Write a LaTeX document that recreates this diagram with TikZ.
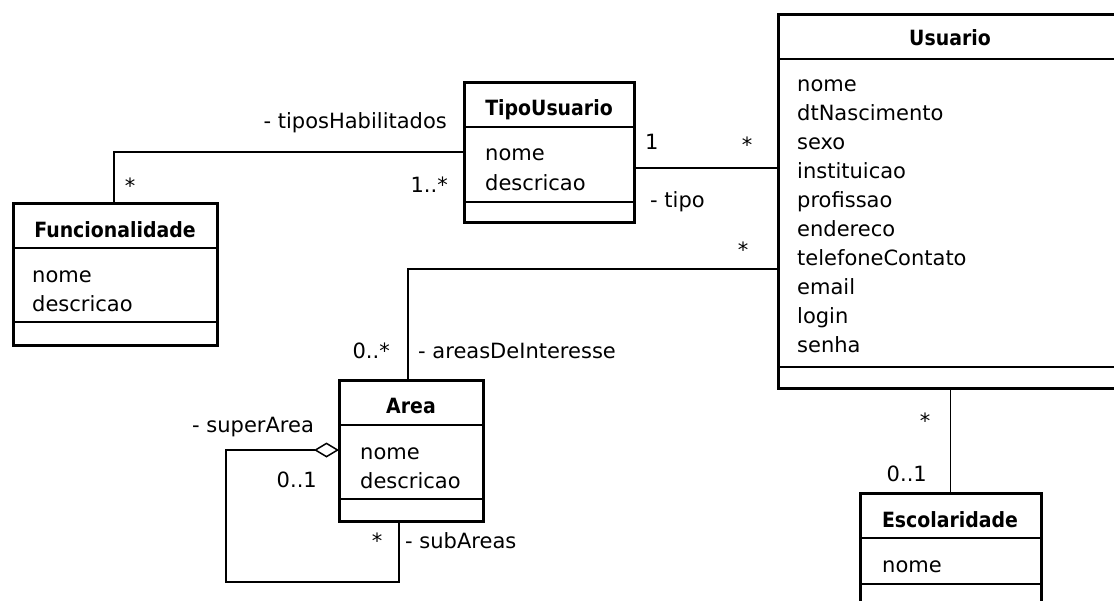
\documentclass[tikz,border=0pt]{standalone}
\usepackage{fontspec}
\setmainfont{DejaVu Sans}
\newfontfamily\titlefont{DejaVu Sans}[UprightFont={* Bold}, FakeStretch=0.9]
\usetikzlibrary{arrows.meta}

\tikzset{
  classbox/.style={draw, rectangle, line width=3pt, inner sep=0pt, outer sep=0pt, anchor=north west},
  sepline/.style={line width=1.5pt},
  assoc/.style={line width=1.5pt},
  ttl/.style={anchor=base, inner sep=0pt, font=\fontsize{21}{25}\selectfont\titlefont},
  attr/.style={anchor=base west, inner sep=0pt, font=\fontsize{21}{25}\selectfont},
  lbl/.style={inner sep=0pt, font=\fontsize{21}{25}\selectfont},
}

\begin{document}
\begin{tikzpicture}[x=1pt, y=-1pt]
\useasboundingbox (0,0) rectangle (1114,600);
\fill[white] (0,0) rectangle (1114,600);
\clip (0,0) rectangle (1114,600);

% class boxes
\node[classbox, minimum width=204pt, minimum height=142pt] (fun)  at (13,203) {};
\node[classbox, minimum width=170pt, minimum height=140pt] (tipo) at (464,82) {};
\node[classbox, minimum width=345pt, minimum height=374pt] (usu)  at (778,14) {};
\node[classbox, minimum width=144pt, minimum height=141pt] (area) at (339,380) {};
\node[classbox, minimum width=181pt, minimum height=127pt] (esc)  at (860,493) {};

% compartment separators
\foreach \b/\ya/\yb in {fun/248/322, tipo/127/202, usu/59/367, area/425/499, esc/538/584}{
  \draw[sepline] (\b.west |- 0,\ya) -- (\b.east |- 0,\ya);
  \draw[sepline] (\b.west |- 0,\yb) -- (\b.east |- 0,\yb);
}

% Funcionalidade
\node[ttl]  (funT) at (115,237) {Funcionalidade};
\node[attr] (funA) at (32,282) {nome};
\node[attr] (funB) at (32,311) {descricao};

% TipoUsuario
\node[ttl]  (tipoT) at (549,115) {TipoUsuario};
\node[attr] (tipoA) at (485,160) {nome};
\node[attr] (tipoB) at (485,190) {descricao};

% Usuario
\node[ttl] (usuT) at (950,45) {Usuario};
\foreach \t [count=\i from 0] in {nome,dtNascimento,sexo,instituicao,profissao,endereco,telefoneContato,email,login,senha}
  \node[attr] (usuA\i) at (797,{91+29.1*\i}) {\t};

% Area
\node[ttl]  (areaT) at (411,413) {Area};
\node[attr] (areaA) at (360,459) {nome};
\node[attr] (areaB) at (360,488) {descricao};

% Escolaridade
\node[ttl]  (escT) at (950,527) {Escolaridade};
\node[attr] (escA) at (882,572) {nome};

% associations
\draw[assoc] (fun.north -| 114,0) |- (tipo.west |- 0,152);
\draw[assoc] (tipo.east |- 0,168) -- (usu.west |- 0,168);
\draw[assoc] (area.north -| 408,0) |- (usu.west |- 0,269);
\draw[assoc] (usu.south -| esc.north) -- (esc.north);
\draw[assoc, -{Diamond[open, length=25pt, width=15pt, line width=1.5pt]}]
  (area.south -| 399,0) |- (226,582) |- (area.west |- 0,450);

% role names and multiplicities
\node[lbl, anchor=base east] (l1)  at (447,128) {- tiposHabilitados};
\node[lbl, anchor=base]      (l2)  at (130,193) {*};
\node[lbl, anchor=base east] (l3)  at (448,192) {1..*};
\node[lbl, anchor=base west] (l4)  at (645,149) {1};
\node[lbl, anchor=base]      (l5)  at (747,152) {*};
\node[lbl, anchor=base west] (l6)  at (650,207) {- tipo};
\node[lbl, anchor=base]      (l7)  at (743,257) {*};
\node[lbl, anchor=base east] (l8)  at (390,358) {0..*};
\node[lbl, anchor=base west] (l9)  at (418,358) {- areasDeInteresse};
\node[lbl, anchor=base west] (l10) at (192,432) {- superArea};
\node[lbl, anchor=base east] (l11) at (317,487) {0..1};
\node[lbl, anchor=base]      (l12) at (377,548) {*};
\node[lbl, anchor=base west] (l13) at (405,548) {- subAreas};
\node[lbl, anchor=base]      (l14) at (925,428) {*};
\node[lbl, anchor=base east] (l15) at (927,481) {0..1};
\end{tikzpicture}
\end{document}
